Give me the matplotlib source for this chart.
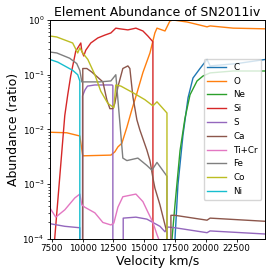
import numpy as np
import matplotlib
matplotlib.use("Agg")
import matplotlib.pyplot as plt

# velocity (km/s) and abundance pairs; 0 = no abundance
c_vel = [7350, 17300, 17500, 17740, 18150, 18560, 18960, 19530, 20100, 20350, 22540, 24820]
c_ab = [0, 1e-5, 1e-4, 9.7e-4, 0.0079, 0.038, 0.087, 0.13, 0.19, 0.145, 0.16, 0.19]

o_vel = [7350, 8720, 9780, 10020, 12300, 12620, 12870, 13190, 13600, 14000, 14410, 14900,
         15470, 15870, 16040, 16690, 17090, 17340, 18480, 20100, 20350, 22220, 24820]
o_ab = [0.0089, 0.0087, 0.0076, 0.0033, 0.0034, 0.0039, 0.0048, 0.0056, 0.011, 0.023, 0.046, 0.11,
        0.25, 0.58, 0.71, 0.63, 0.96, 1.0, 0.92, 0.75, 0.78, 0.71, 0.69]

ne_vel = [7350, 17100, 17260, 17500, 17910, 18310, 18720, 19290, 19780, 20350, 22220, 24820]
ne_ab = [0, 0, 1e-4, 4.2e-4, 0.0041, 0.016, 0.043, 0.077, 0.095, 0.108, 0.117, 0.117]

si_vel = [7350, 7740, 8560, 8800, 9040, 9450, 9860, 9940, 10100, 10260, 10670, 11240, 11810,
          12300, 12700, 13030, 13680, 14330, 14900, 15300, 15710, 15800, 24820]
si_ab = [0, 1e-4, 0.018, 0.043, 0.095, 0.27, 0.38, 0.27, 0.22, 0.28, 0.38, 0.47, 0.53,
         0.58, 0.71, 0.69, 0.66, 0.71, 0.63, 0.51, 0.40, 0, 0]

s_vel = [7350, 8560, 9780, 9900, 10000, 10200, 10400, 11000, 12400, 12460, 12600, 13200,
         13300, 14330, 15220, 16280, 16690, 16930, 17500, 20100, 20350, 24820]
s_ab = [1.9e-4, 1.7e-4, 1.6e-4, 0, 0.041, 0.053, 0.062, 0.065, 0.065, 0.063, 0, 0,
        2.4e-4, 2.5e-4, 2.3e-4, 1.7e-4, 1.35e-4, 1.65e-4, 1.6e-4, 1.3e-4, 1.4e-4, 1.23e-4]

ca_vel = [7350, 9950, 10020, 10350, 10750, 11650, 11970, 12220, 12460, 12620, 12870, 13270,
          13680, 13840, 14090, 14410, 14650, 15220, 15470, 15710, 15870, 16280, 16690, 16850,
          17000, 17100, 17170, 17500, 20100, 20350, 24820]
ca_ab = [0, 0, 0.13, 0.13, 0.112, 0.074, 0.035, 0.024, 0.024, 0.030, 0.060, 0.13,
         0.145, 0.13, 0.039, 0.015, 0.0098, 0.0042, 0.0027, 0.0013, 8.5e-4, 4.2e-4, 1.8e-4, 1.3e-4,
         0, 0, 2.7e-4, 2.7e-4, 2.2e-4, 2.4e-4, 2.1e-4]

ticr_vel = [7350, 7830, 8560, 9370, 9780, 9940, 10180, 11000, 11650, 12300, 12540, 12870,
            13270, 14330, 14900, 15300, 15710, 16040, 16440, 16600, 24820]
ticr_ab = [3.7e-4, 2.5e-4, 3.4e-4, 5.6e-4, 6.6e-4, 4.2e-4, 3.8e-4, 3.0e-4, 2.0e-4, 1.8e-4, 1.95e-4, 3.8e-4,
           5.9e-4, 6.6e-4, 4.8e-4, 3.1e-4, 2.0e-4, 1.2e-4, 7e-5, 0, 0]

fe_vel = [7350, 7910, 8960, 9530, 9780, 9940, 10020, 11400, 12300, 12700, 13270, 13600,
          14490, 15220, 15630, 16040, 16850, 17000, 24820]
fe_ab = [0.26, 0.25, 0.20, 0.16, 0.12, 0.074, 0.074, 0.074, 0.077, 0.10, 0.0030, 0.0027,
         0.0030, 0.0022, 0.0018, 0.0025, 0.0014, 0, 0]

co_vel = [7350, 7900, 9200, 9610, 9780, 10020, 10430, 11000, 11480, 12050, 12540, 12700,
          13110, 14090, 15060, 15710, 16040, 16850, 17000, 24820]
co_ab = [0.51, 0.49, 0.38, 0.25, 0.31, 0.25, 0.19, 0.10, 0.05, 0.030, 0.025, 0.065,
         0.062, 0.047, 0.035, 0.027, 0.032, 0.020, 0, 0]

ni_vel = [7350, 7990, 9210, 9610, 9780, 9850, 24820]
ni_ab = [0.19, 0.17, 0.12, 0.10, 0.077, 0, 0]

elements = ['C', 'O', 'Ne', 'Si', 'S', 'Ca', 'Ti+Cr', 'Fe', 'Co', 'Ni']
series = [(c_vel, c_ab), (o_vel, o_ab), (ne_vel, ne_ab), (si_vel, si_ab), (s_vel, s_ab),
          (ca_vel, ca_ab), (ticr_vel, ticr_ab), (fe_vel, fe_ab), (co_vel, co_ab), (ni_vel, ni_ab)]

fig, ax = plt.subplots(figsize=(2.74, 2.74), dpi=100)
fig.subplots_adjust(left=0.182, right=0.967, bottom=0.128, top=0.927)

for name, (vel, ab) in zip(elements, series):
    ax.plot(vel, ab, lw=1.0, label=name)

ax.set_yscale('log', nonpositive='clip')
ax.set_ylim(1e-4, 1)
ax.set_xlim(7350, 24800)
ax.set_xticks([7500, 10000, 12500, 15000, 17500, 20000, 22500])
ax.tick_params(labelsize=6.3, length=2.5, width=0.6, pad=1.5)
ax.tick_params(which='minor', length=1.5, width=0.5)
for s in ax.spines.values():
    s.set_linewidth(0.7)

ax.set_title('Element Abundance of SN2011iv', fontsize=9, pad=3)
ax.set_xlabel('Velocity km/s', fontsize=9, labelpad=1)
ax.set_ylabel('Abundance (ratio)', fontsize=9, labelpad=2)
ax.legend(loc='center right', fontsize=6.3, handlelength=2.2, labelspacing=0.55,
          borderaxespad=0.4, framealpha=0.8)

fig.savefig('out.png', dpi=100)
